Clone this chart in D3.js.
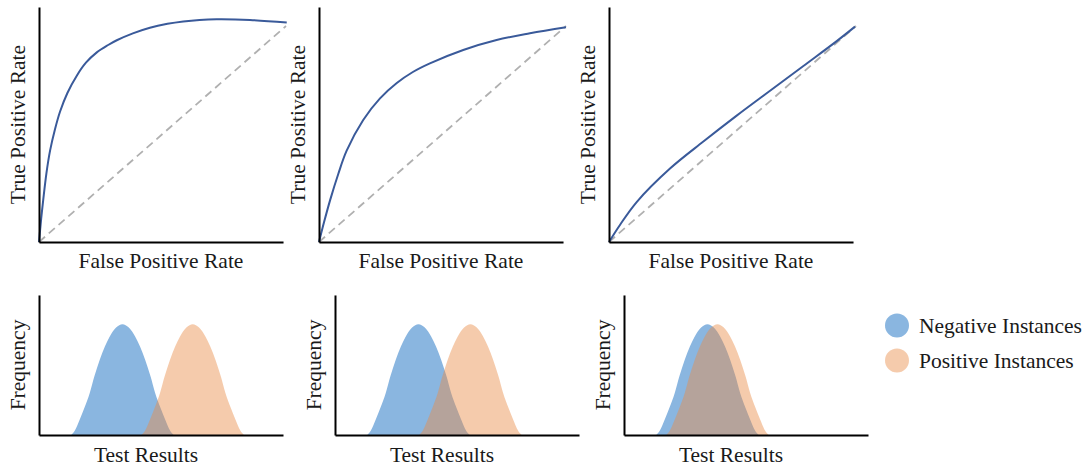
<!DOCTYPE html>
<html><head><meta charset="utf-8">
<script src="https://cdn.jsdelivr.net/npm/d3@7"></script>
<style>
body{margin:0;background:#fff}
svg{display:block}
text{font-family:"Liberation Serif","Times New Roman",serif;fill:#1a1a1a;font-size:21.5px}
</style>
</head><body><svg id="c" width="1084" height="469"></svg>
<script>
// ROC curves (FPR, TPR)
const rocFpr1 = [0,0.009,0.017,0.03,0.045,0.065,0.085,0.115,0.153,0.19,0.234,0.28,0.315,0.38,0.449,0.52,0.584,0.65,0.719,0.854,1.003];
const rocTpr1 = [0,0.11,0.194,0.318,0.424,0.523,0.603,0.69,0.77,0.83,0.878,0.912,0.934,0.966,0.992,1.01,1.021,1.028,1.031,1.028,1.016];
const rocFpr2 = [0,0.02,0.045,0.078,0.112,0.179,0.247,0.315,0.38,0.449,0.584,0.719,0.854,1.0];
const rocTpr2 = [0,0.09,0.194,0.315,0.423,0.565,0.665,0.736,0.787,0.827,0.889,0.935,0.966,0.994];
const rocFpr3 = [0,0.045,0.112,0.247,0.382,0.517,0.652,0.787,0.922,0.996];
const rocTpr3 = [0,0.08,0.185,0.34,0.465,0.585,0.7,0.815,0.93,0.997];
const chanceLine = [[0,0],[1,1]];

// Bell-shaped distribution profile (offset from peak, relative height)
const bellOffsets = [-2.1,-1.95,-1.75,-1.55,-1.34,-1.15,-0.93,-0.72,-0.52,-0.26,0,0.26,0.52,0.72,0.93,1.15,1.34,1.55,1.75,1.95,2.1];
const bellHeights = [0,0.04,0.14,0.25,0.38,0.53,0.68,0.8,0.89,0.97,1,0.97,0.89,0.8,0.68,0.53,0.38,0.25,0.14,0.04,0];
const negativeCenters = [3.42, 3.42, 3.42];
const positiveCenters = [6.3, 5.55, 3.83];

const xLabelTop = "False Positive Rate";
const yLabelTop = "True Positive Rate";
const xLabelBottom = "Test Results";
const yLabelBottom = "Frequency";
const legendLabels = ["Negative Instances", "Positive Instances"];

// ---- layout / style ----
const svg = d3.select("#c");
const topX0 = [39, 319, 609];
const botX0 = [39, 335, 624];
const rocColor = "#3a5a9a";
const negColor = "#8ab6e0";
const posColor = "rgb(233,140,70)";
const posOpacity = 0.45;

const rocSets = [[rocFpr1, rocTpr1],[rocFpr2, rocTpr2],[rocFpr3, rocTpr3]];

rocSets.forEach((s, i) => {
  const x = d3.scaleLinear().domain([0,1]).range([topX0[i], topX0[i] + 247]);
  const y = d3.scaleLinear().domain([0,1]).range([242, 26]);
  const g = svg.append("g");
  const line = d3.line().x(d => x(d[0])).y(d => y(d[1]));
  g.append("path").datum(chanceLine).attr("d", line)
    .attr("fill","none").attr("stroke","#b0b0b0").attr("stroke-width",1.8).attr("stroke-dasharray","8,5");
  const pts = s[0].map((v, k) => [v, s[1][k]]);
  g.append("path").datum(pts).attr("d", line.curve(d3.curveCatmullRom.alpha(0.5)))
    .attr("fill","none").attr("stroke",rocColor).attr("stroke-width",2);
  const xa = d3.scaleLinear().domain([0,0.988]).range([x(0), x(0.988)]);
  const ya = d3.scaleLinear().domain([0,1.088]).range([y(0), y(1.088)]);
  g.append("g").attr("transform",`translate(0,${y(0)})`).call(d3.axisBottom(xa).ticks(0).tickSizeOuter(0))
    .select(".domain").attr("stroke","#000").attr("stroke-width",2);
  g.append("g").attr("transform",`translate(${x(0)},0)`).call(d3.axisLeft(ya).ticks(0).tickSizeOuter(0))
    .select(".domain").attr("stroke","#000").attr("stroke-width",2);
  g.append("text").attr("x", (x(0)+x(0.988))/2).attr("y", 268).attr("text-anchor","middle").text(xLabelTop);
  g.append("text").attr("transform",`translate(${x(0)-14},${(y(0)+y(1.088))/2}) rotate(-90)`)
    .attr("text-anchor","middle").text(yLabelTop);
});

[0,1,2].forEach(i => {
  const x = d3.scaleLinear().domain([0,10]).range([botX0[i], botX0[i] + 244]);
  const y = d3.scaleLinear().domain([0,1]).range([435, 324.3]);
  const g = svg.append("g");
  const area = d3.area().x(d => x(d[0])).y0(y(0)).y1(d => y(d[1])).curve(d3.curveMonotoneX);
  const neg = bellOffsets.map((o,k) => [negativeCenters[i] + o, bellHeights[k]]);
  const pos = bellOffsets.map((o,k) => [positiveCenters[i] + o, bellHeights[k]]);
  g.append("path").datum(neg).attr("d", area).attr("fill", negColor);
  g.append("path").datum(pos).attr("d", area).attr("fill", posColor).attr("fill-opacity", posOpacity);
  const ya = d3.scaleLinear().domain([0,1.265]).range([y(0), y(1.265)]);
  g.append("g").attr("transform",`translate(0,${y(0)})`).call(d3.axisBottom(x).ticks(0).tickSizeOuter(0))
    .select(".domain").attr("stroke","#000").attr("stroke-width",2);
  g.append("g").attr("transform",`translate(${x(0)},0)`).call(d3.axisLeft(ya).ticks(0).tickSizeOuter(0))
    .select(".domain").attr("stroke","#000").attr("stroke-width",2);
  g.append("text").attr("x", x(5) - 15).attr("y", 462).attr("text-anchor","middle").text(xLabelBottom);
  g.append("text").attr("transform",`translate(${x(0)-14},${(y(0)+y(1.265))/2}) rotate(-90)`)
    .attr("text-anchor","middle").text(yLabelBottom);
});

const lg = svg.append("g");
legendLabels.forEach((lab, i) => {
  lg.append("circle").attr("cx", 897).attr("cy", 325.5 + 35 * i).attr("r", 12)
    .attr("fill", i === 0 ? negColor : posColor).attr("fill-opacity", i === 0 ? 1 : posOpacity);
  lg.append("text").attr("x", 919).attr("y", 333 + 35 * i).text(lab);
});
</script>
</body></html>
